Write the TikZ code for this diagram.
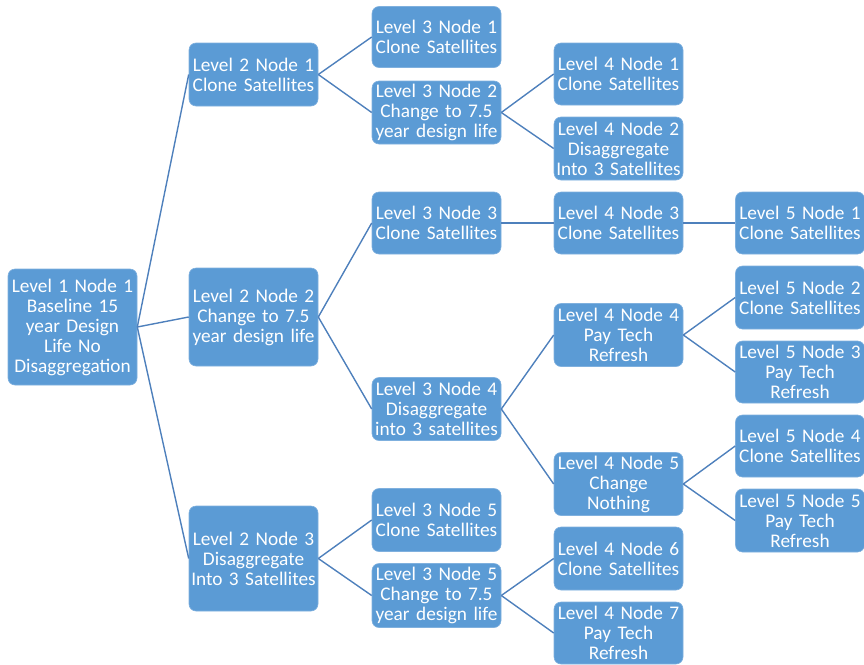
\documentclass[tikz,border=0pt]{standalone}
\usepackage{fontspec}
\setmainfont{Carlito}
\usepackage{tikz}
\usetikzlibrary{positioning}
\definecolor{boxfill}{HTML}{5B9BD5}
\definecolor{boxedge}{HTML}{7FB0DE}
\definecolor{linkcol}{HTML}{4E80BC}
\tikzset{
  treebox/.style={draw=boxedge, line width=0.6pt, fill=boxfill, rounded corners=7pt,
    text=white, align=center, minimum width=129pt, text width=127pt, inner sep=0pt,
    font=\fontsize{19.3}{20}\selectfont},
  link/.style={draw=linkcol, line width=1.4pt}
}
\begin{document}
\begin{tikzpicture}[x=1pt, y=-1pt]
    \useasboundingbox (0,0) rectangle (864,664);
    % level 1
    \node[treebox, minimum height=116pt] (l1n1) at (72.5,327) {Level 1 Node 1\\Baseline 15\\year Design\\Life No\\Disaggregation};
    % level 2
    \node[treebox, minimum height=63pt] (l2n1) at (253.5,74.5) {Level 2 Node 1\\Clone Satellites};
    \node[treebox, minimum height=98pt] (l2n2) at (253.5,317) {Level 2 Node 2\\Change to 7.5\\year design life};
    \node[treebox, minimum height=105pt] (l2n3) at (253.5,558.5) {Level 2 Node 3\\Disaggregate\\Into 3 Satellites};
    % level 3
    \node[treebox, minimum height=61pt] (l3n1) at (436.5,37) {Level 3 Node 1\\Clone Satellites};
    \node[treebox, minimum height=63pt] (l3n2) at (436.5,112.5) {Level 3 Node 2\\Change to 7.5\\year design life};
    \node[treebox, minimum height=62pt] (l3n3) at (436.5,223) {Level 3 Node 3\\Clone Satellites};
    \node[treebox, minimum height=63pt] (l3n4) at (436.5,409) {Level 3 Node 4\\Disaggregate\\into 3 satellites};
    \node[treebox, minimum height=63pt] (l3n5) at (436.5,520) {Level 3 Node 5\\Clone Satellites};
    \node[treebox, minimum height=64pt] (l3n6) at (436.5,595.5) {Level 3 Node 5\\Change to 7.5\\year design life};
    % level 4
    \node[treebox, minimum height=62pt] (l4n1) at (618.5,74) {Level 4 Node 1\\Clone Satellites};
    \node[treebox, minimum height=63pt] (l4n2) at (618.5,148.5) {Level 4 Node 2\\Disaggregate\\Into 3 Satellites};
    \node[treebox, minimum height=62pt] (l4n3) at (618.5,223) {Level 4 Node 3\\Clone Satellites};
    \node[treebox, minimum height=63pt] (l4n4) at (618.5,335) {Level 4 Node 4\\Pay Tech\\Refresh};
    \node[treebox, minimum height=63pt] (l4n5) at (618.5,484) {Level 4 Node 5\\Change\\Nothing};
    \node[treebox, minimum height=63pt] (l4n6) at (618.5,558.5) {Level 4 Node 6\\Clone Satellites};
    \node[treebox, minimum height=62pt] (l4n7) at (618.5,633) {Level 4 Node 7\\Pay Tech\\Refresh};
    % level 5
    \node[treebox, minimum height=62pt] (l5n1) at (800,223) {Level 5 Node 1\\Clone Satellites};
    \node[treebox, minimum height=63pt] (l5n2) at (800,297.5) {Level 5 Node 2\\Clone Satellites};
    \node[treebox, minimum height=62pt] (l5n3) at (800,372) {Level 5 Node 3\\Pay Tech\\Refresh};
    \node[treebox, minimum height=62pt] (l5n4) at (800,446) {Level 5 Node 4\\Clone Satellites};
    \node[treebox, minimum height=63pt] (l5n5) at (800,520.5) {Level 5 Node 5\\Pay Tech\\Refresh};
    % links
    \foreach \from/\to in {l1n1/l2n1, l1n1/l2n2, l1n1/l2n3,
        l2n1/l3n1, l2n1/l3n2, l2n2/l3n3, l2n2/l3n4, l2n3/l3n5, l2n3/l3n6,
        l3n2/l4n1, l3n2/l4n2, l3n3/l4n3, l3n4/l4n4, l3n4/l4n5, l3n6/l4n6, l3n6/l4n7,
        l4n3/l5n1, l4n4/l5n2, l4n4/l5n3, l4n5/l5n4, l4n5/l5n5}
      \draw[link] (\from.east) -- (\to.west);
  \end{tikzpicture}
\end{document}
